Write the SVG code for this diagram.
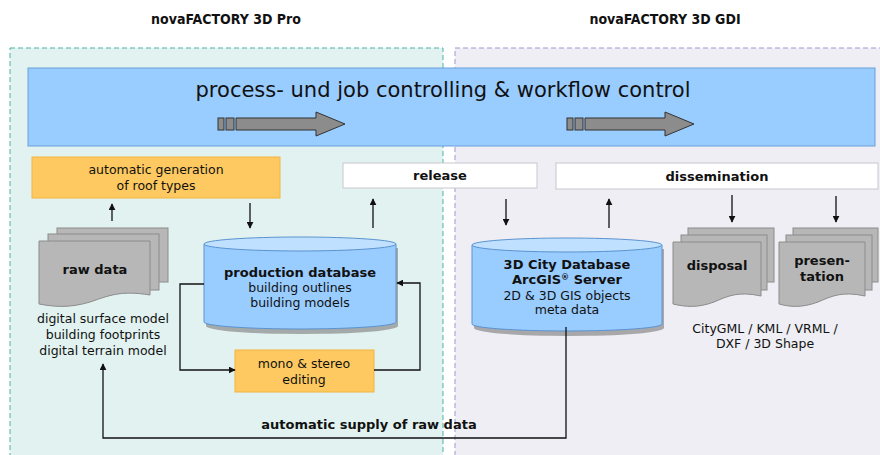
<svg xmlns="http://www.w3.org/2000/svg" width="880" height="455" viewBox="0 0 880 455">
<style>
text{font-family:"DejaVu Sans","Liberation Sans",sans-serif;fill:#111}
.hd{font-family:"DejaVu Sans Condensed","DejaVu Sans",sans-serif;font-weight:bold;font-size:14px;text-anchor:middle}
.b{font-weight:bold;font-size:13px;text-anchor:middle}
.n{font-size:12.5px;text-anchor:middle}
.orange{fill:#fdc960;stroke:#f3b43e;stroke-width:1}
.white{fill:#fff;stroke:#c8c8d0;stroke-width:1}
.page{fill:#b7b7b7;stroke:#8c8c8c;stroke-width:1}
.cylb{fill:#99ccff;stroke:#5b93d0;stroke-width:1}
.cylt{fill:#bfe0ff;stroke:#5b93d0;stroke-width:1}
.shadow{fill:#7a7a7a;opacity:0.6}
.ln{fill:none;stroke:#111;stroke-width:1.3}
.garrow{fill:#8c8c8c;stroke:#333;stroke-width:1}
</style>
<defs>
<marker id="ah" viewBox="0 0 10 10" refX="9" refY="5" markerWidth="7" markerHeight="7" markerUnits="userSpaceOnUse" orient="auto">
<path d="M0,0 L10,5 L0,10 Z" fill="#111"/>
</marker>
</defs>
<rect width="880" height="455" fill="#fff"/>

<g id="panel-pro">
<rect x="10" y="48" width="433" height="420" fill="#e2f2f0" stroke="#4fb3a8" stroke-width="1" stroke-dasharray="5,3"/>
<text class="hd" x="226" y="24">novaFACTORY 3D Pro</text>
</g>
<g id="panel-gdi">
<rect x="455" y="48" width="432" height="420" fill="#eeeef4" stroke="#9a9ad2" stroke-width="1" stroke-dasharray="5,3"/>
<text class="hd" x="665" y="24">novaFACTORY 3D GDI</text>
</g>

<g id="banner">
<rect x="28" y="68" width="847" height="78" fill="#99ccff" stroke="#6a9fd8" stroke-width="1"/>
<text x="443" y="97" font-family="DejaVu Sans Condensed,DejaVu Sans,sans-serif" font-size="22" text-anchor="middle" textLength="495" lengthAdjust="spacingAndGlyphs">process- und job controlling &amp; workflow control</text>
<g class="garrow">
<rect x="218" y="118" width="6" height="12"/>
<rect x="226" y="118" width="8" height="12"/>
<path d="M236,118 H316 V112 L345,124 L316,136 V130 H236 Z"/>
<rect x="567" y="118" width="6" height="12"/>
<rect x="575" y="118" width="8" height="12"/>
<path d="M585,118 H665 V112 L694,124 L665,136 V130 H585 Z"/>
</g>
</g>

<g id="roof-types">
<rect class="orange" x="32" y="157" width="248" height="41"/>
<text class="n" x="156" y="174">automatic generation</text>
<text class="n" x="156" y="190">of roof types</text>
</g>

<g id="release">
<rect class="white" x="343" y="163" width="194" height="25"/>
<text class="b" x="440" y="180">release</text>
</g>

<g id="dissemination">
<rect class="white" x="556" y="163" width="322" height="26"/>
<text class="b" x="717" y="181">dissemination</text>
</g>

<g id="raw-data">
<rect class="page" x="57" y="228" width="111" height="54"/>
<rect class="page" x="48" y="234" width="111" height="56"/>
<path class="page" d="M39,241 H150 V295 C120,290 108,296 90,302 C70,308 55,307 39,304 Z"/>
<text class="b" x="95" y="274">raw data</text>
<text class="n" x="103" y="323">digital surface model</text>
<text class="n" x="103" y="339">building footprints</text>
<text class="n" x="103" y="355">digital terrain model</text>
</g>

<g id="production-db">
<path class="shadow" d="M206,248 V326 A96,8 0 0 0 398,326 V248 Z"/>
<path class="cylb" d="M204,244 V322 A96,7 0 0 0 396,322 V244 Z"/>
<ellipse class="cylt" cx="300" cy="244" rx="96" ry="7"/>
<text class="b" x="300" y="277">production database</text>
<text class="n" x="300" y="292">building outlines</text>
<text class="n" x="300" y="307">building models</text>
</g>

<g id="mono-stereo">
<rect class="orange" x="235" y="350" width="139" height="42"/>
<text class="n" x="304" y="368">mono &amp; stereo</text>
<text class="n" x="304" y="384">editing</text>
</g>

<g id="city-db">
<path class="shadow" d="M474,249 V328 A95,8 0 0 0 664,328 V249 Z"/>
<path class="cylb" d="M472,245 V324 A95,7 0 0 0 662,324 V245 Z"/>
<ellipse class="cylt" cx="567" cy="245" rx="95" ry="7"/>
<text class="b" x="567" y="269">3D City Database</text>
<text class="b" x="567" y="284">ArcGIS<tspan font-size="8" dy="-4">®</tspan><tspan dy="4"> Server</tspan></text>
<text class="n" x="567" y="300">2D &amp; 3D GIS objects</text>
<text class="n" x="567" y="314">meta data</text>
</g>

<g id="disposal">
<rect class="page" x="688" y="228" width="86" height="54"/>
<rect class="page" x="681" y="235" width="86" height="55"/>
<path class="page" d="M673,242 H761 V296 C738,291 728,296 714,302 C698,308 686,307 673,304 Z"/>
<text class="b" x="717" y="270">disposal</text>
</g>

<g id="presentation">
<rect class="page" x="793" y="228" width="85" height="54"/>
<rect class="page" x="786" y="235" width="86" height="55"/>
<path class="page" d="M779,242 H865 V296 C842,291 832,296 818,302 C802,308 790,307 779,304 Z"/>
<text class="b" x="822" y="265">presen-</text>
<text class="b" x="822" y="281">tation</text>
</g>

<g id="formats-label">
<text class="n" x="765" y="333">CityGML / KML / VRML /</text>
<text class="n" x="765" y="348">DXF / 3D Shape</text>
</g>

<g id="connectors">
<line class="ln" x1="112" y1="221" x2="112" y2="204" marker-end="url(#ah)"/>
<line class="ln" x1="250" y1="203" x2="250" y2="228" marker-end="url(#ah)"/>
<line class="ln" x1="373" y1="228" x2="373" y2="199" marker-end="url(#ah)"/>
<line class="ln" x1="506" y1="199" x2="506" y2="225" marker-end="url(#ah)"/>
<line class="ln" x1="609" y1="228" x2="609" y2="199" marker-end="url(#ah)"/>
<line class="ln" x1="732" y1="195" x2="732" y2="222" marker-end="url(#ah)"/>
<line class="ln" x1="836" y1="196" x2="836" y2="222" marker-end="url(#ah)"/>
<polyline class="ln" points="204,284 180,284 180,370 235,370" marker-end="url(#ah)"/>
<polyline class="ln" points="374,370 420,370 420,283 397,283" marker-end="url(#ah)"/>
<polyline class="ln" points="566,327 566,438 103,438 103,364" marker-end="url(#ah)"/>
<text class="b" x="369" y="429">automatic supply of raw data</text>
</g>
</svg>
